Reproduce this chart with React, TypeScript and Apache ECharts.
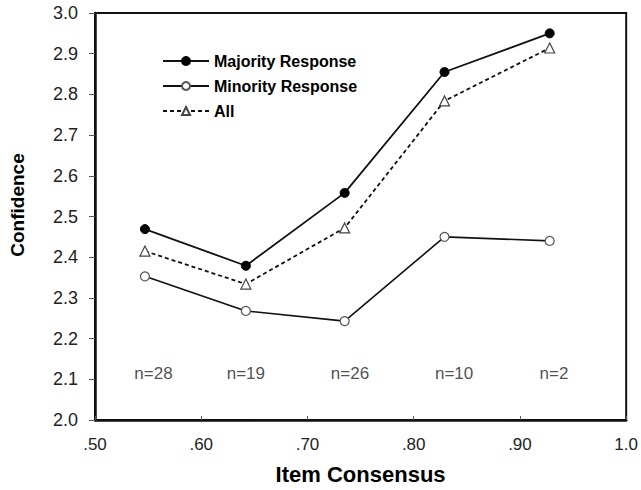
import React, { useEffect, useRef } from "react";
import * as echarts from "echarts";

const xValues = [0.547, 0.642, 0.735, 0.829, 0.928];
const majority = [2.469, 2.379, 2.558, 2.855, 2.95];
const minority = [2.353, 2.268, 2.243, 2.45, 2.44];
const allResp = [2.415, 2.334, 2.472, 2.784, 2.914];
const nLabels = ["n=28", "n=19", "n=26", "n=10", "n=2"];
const nLabelX = [0.555, 0.642, 0.74, 0.838, 0.932];
const nLabelY = 2.115;
const seriesNames = ["Majority Response", "Minority Response", "All"];
const xTitle = "Item Consensus";
const yTitle = "Confidence";

const FONT = "'Liberation Sans', Arial, sans-serif";

export default function App() {
  const ref = useRef<HTMLDivElement>(null);
  useEffect(() => {
    if (!ref.current) return;
    const chart = echarts.init(ref.current, null, { renderer: "svg" });
    const pair = (ys: number[]) => xValues.map((x, i) => [x, ys[i]]);
    chart.setOption({
      animation: false,
      backgroundColor: "#fff",
      textStyle: { fontFamily: FONT },
      grid: {
        left: 95,
        right: 11,
        top: 13,
        bottom: 67,
        show: true,
        borderColor: "#111",
        borderWidth: 2,
      },
      graphic: [
        {
          type: "text",
          x: 17.5,
          y: 205,
          rotation: Math.PI / 2,
          style: {
            text: yTitle,
            fontFamily: FONT,
            fontWeight: "bold",
            fontSize: 19,
            fill: "#000",
            align: "center",
            verticalAlign: "middle",
          },
        },
      ],
      legend: {
        orient: "vertical",
        left: 157,
        top: 48,
        itemWidth: 46,
        itemHeight: 10,
        itemGap: 9,
        data: seriesNames,
        textStyle: { fontFamily: FONT, fontWeight: "bold", fontSize: 16, color: "#000" },
      },
      xAxis: {
        type: "value",
        min: 0.5,
        max: 1.0,
        interval: 0.1,
        name: xTitle,
        nameLocation: "middle",
        nameGap: 43,
        nameTextStyle: { fontFamily: FONT, fontWeight: "bold", fontSize: 22, color: "#000" },
        axisLine: { show: true, onZero: false, lineStyle: { color: "#111", width: 2.5 } },
        axisTick: { show: true, inside: true, length: 4, lineStyle: { color: "#555", width: 1 } },
        splitLine: { show: false },
        axisLabel: {
          fontFamily: FONT,
          fontSize: 17,
          color: "#222",
          margin: 16,
          formatter: (v: number) => (Math.abs(v - 1) < 1e-9 ? "1.0" : v.toFixed(2).replace(/^0/, "")),
        },
      },
      yAxis: {
        type: "value",
        min: 2.0,
        max: 3.0,
        interval: 0.1,
        axisLine: { show: true, onZero: false, lineStyle: { color: "#111", width: 2.5 } },
        axisTick: { show: true, inside: false, length: 6, lineStyle: { color: "#555", width: 1 } },
        splitLine: { show: false },
        axisLabel: {
          fontFamily: FONT,
          fontSize: 18,
          color: "#222",
          margin: 17,
          formatter: (v: number) => v.toFixed(1),
        },
      },
      series: [
        {
          name: seriesNames[0],
          type: "line",
          data: pair(majority),
          symbol: "circle",
          symbolSize: 9,
          lineStyle: { color: "#111", width: 1.8 },
          itemStyle: { color: "#000", borderColor: "#000", borderWidth: 1 },
          z: 3,
        },
        {
          name: seriesNames[1],
          type: "line",
          data: pair(minority),
          symbol: "circle",
          symbolSize: 9,
          lineStyle: { color: "#111", width: 1.6 },
          itemStyle: { color: "#fff", borderColor: "#555", borderWidth: 1.2 },
          z: 3,
        },
        {
          name: seriesNames[2],
          type: "line",
          data: pair(allResp),
          symbol: "triangle",
          symbolSize: 10,
          lineStyle: { color: "#111", width: 1.8, type: [4, 3] },
          itemStyle: { color: "#fff", borderColor: "#444", borderWidth: 1.2 },
          z: 3,
        },
        {
          name: "n",
          type: "scatter",
          data: nLabelX.map((x, i) => ({ value: [x, nLabelY], name: nLabels[i] })),
          symbolSize: 0,
          silent: true,
          label: {
            show: true,
            position: "inside",
            formatter: (p: any) => p.name,
            fontFamily: FONT,
            fontSize: 17,
            color: "#222",
          },
        },
      ],
    });
    return () => chart.dispose();
  }, []);
  return <div ref={ref} style={{ width: 641, height: 490, position: "absolute", left: 0, top: 0 }} />;
}
